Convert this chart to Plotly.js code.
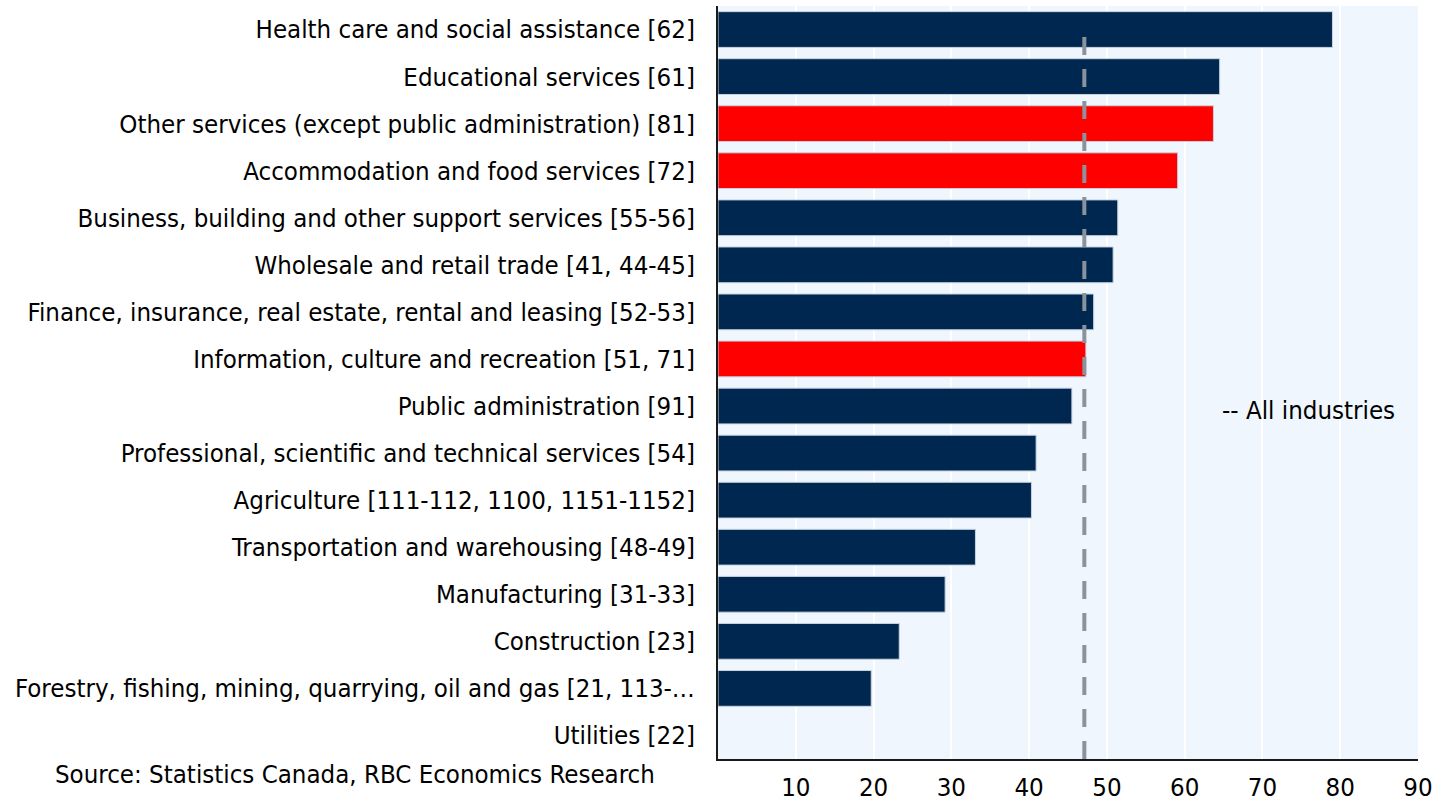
<!DOCTYPE html>
<html>
<head>
<meta charset="utf-8">
<script src="https://cdn.plot.ly/plotly-3.0.1.min.js"></script>
<style>html,body{margin:0;padding:0;background:#fff;}#chart{width:1443px;height:808px;}</style>
</head>
<body>
<div id="chart"></div>
<script>
const categories = [
  "Health care and social assistance [62]",
  "Educational services [61]",
  "Other services (except public administration) [81]",
  "Accommodation and food services [72]",
  "Business, building and other support services [55-56]",
  "Wholesale and retail trade [41, 44-45]",
  "Finance, insurance, real estate, rental and leasing [52-53]",
  "Information, culture and recreation [51, 71]",
  "Public administration [91]",
  "Professional, scientific and technical services [54]",
  "Agriculture [111-112, 1100, 1151-1152]",
  "Transportation and warehousing [48-49]",
  "Manufacturing [31-33]",
  "Construction [23]",
  "Forestry, fishing, mining, quarrying, oil and gas [21, 113-…",
  "Utilities [22]"
];
const values = [79.0, 64.5, 63.7, 59.1, 51.4, 50.8, 48.3, 47.3, 45.5, 40.9, 40.3, 33.1, 29.2, 23.3, 19.7, null];
const highlighted = [false, false, true, true, false, false, false, true, false, false, false, false, false, false, false, false];
const allIndustries = 47.1;
const xTicks = [10, 20, 30, 40, 50, 60, 70, 80, 90];

const navy = "#00274f", red = "#ff0000";
const font = "'DejaVu Sans Condensed', 'DejaVu Sans', sans-serif";
const fs = 25.6;

const trace = {
  type: "bar",
  orientation: "h",
  y: categories,
  x: values,
  marker: {color: highlighted.map(h => h ? red : navy), line: {color: "#c8d3de", width: 1}},
  width: 0.76,
  hoverinfo: "skip"
};

const layout = {
  width: 1443, height: 808,
  margin: {l: 718, r: 25, t: 6, b: 49},
  paper_bgcolor: "#ffffff",
  plot_bgcolor: "#eff6fd",
  font: {family: font, size: fs, color: "#000"},
  showlegend: false,
  xaxis: {
    range: [0, 90],
    tickvals: xTicks,
    ticktext: xTicks.map(String),
    showgrid: true, gridcolor: "#ffffff", gridwidth: 2,
    zeroline: false,
    showline: true, linecolor: "#1a1a1a", linewidth: 2,
    ticks: "", ticklabelstandoff: 4,
    tickfont: {family: font, size: fs}
  },
  yaxis: {
    autorange: "reversed",
    showline: true, linecolor: "#1a1a1a", linewidth: 2,
    showgrid: false, zeroline: false,
    ticks: "", ticklabelstandoff: 16,
    tickfont: {family: font, size: fs}
  },
  shapes: [{
    type: "line", xref: "x", yref: "paper",
    x0: allIndustries, x1: allIndustries, y0: 0, y1: 0.97,
    line: {color: "#8a939c", width: 4, dash: "18px,14px"}
  }],
  annotations: [
    {xref: "x", yref: "paper", x: 64.6, y: 0.463, xanchor: "left", yanchor: "middle",
     text: "-- All industries", showarrow: false, font: {family: font, size: fs}},
    {xref: "paper", yref: "paper", x: -0.95, y: -0.02, xanchor: "left", yanchor: "middle",
     text: "Source: Statistics Canada, RBC Economics Research", showarrow: false,
     font: {family: font, size: fs}}
  ]
};

Plotly.newPlot("chart", [trace], layout, {displayModeBar: false, staticPlot: true});
</script>
</body>
</html>
